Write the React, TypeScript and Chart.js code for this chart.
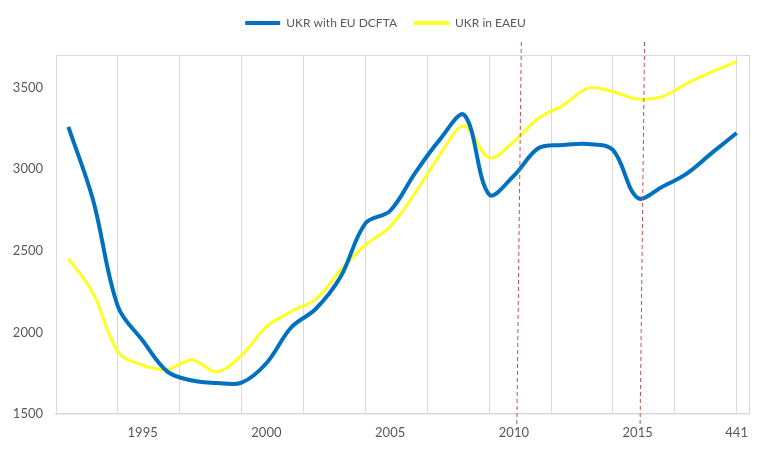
import { useEffect, useRef } from "react"
import { Chart, registerables, type ChartConfiguration, type Plugin } from "chart.js"

Chart.register(...registerables)

// data
const years = [
  1992, 1993, 1994, 1995, 1996, 1997, 1998, 1999, 2000, 2001, 2002, 2003, 2004, 2005,
  2006, 2007, 2008, 2009, 2010, 2011, 2012, 2013, 2014, 2015, 2016, 2017, 2018, 2019,
]
const ukrDcfta = [
  3260, 2810, 2160, 1950, 1760, 1705, 1690, 1692, 1811, 2030, 2145, 2341, 2668, 2745,
  2975, 3180, 3332, 2845, 2960, 3130, 3148, 3154, 3118, 2824, 2893, 2975, 3100, 3222,
]
const ukrEaeu = [
  2454, 2239, 1882, 1800, 1774, 1831, 1759, 1861, 2035, 2128, 2204, 2383, 2535, 2648,
  2852, 3087, 3265, 3070, 3170, 3314, 3393, 3497, 3475, 3430, 3445, 3527, 3597, 3659,
]

const xLabelAt = [1995, 2000, 2005, 2010, 2015, 2019]
const xLabels = ["1995", "2000", "2005", "2010", "2015", "441"]
const xGridAt = [1994, 1996.5, 1999, 2001.5, 2004, 2006.5, 2009, 2011.5, 2014, 2016.5, 2019, 2019.5]
const yTicks = [1500, 2000, 2500, 3000, 3500]

// dashed markers (slightly slanted in the original)
const markerTop = [2010.3, 2015.28]
const markerBottom = [2010.12, 2015.1]

const X_MIN = 1991.5
const X_MAX = 2019.5
const Y_MIN = 1500
const Y_MAX = 3700

const GRID = "#D9D9D9"
const TEXT = "#595959"
const FONT = "Lato, 'Open Sans', sans-serif"

// more room under the legend, and nudge the row a bit to the right
const legendGap: Plugin = {
  id: "legendGap",
  beforeInit(chart) {
    const legend = chart.legend as any
    if (!legend) return
    const fit = legend.fit
    legend.fit = function () {
      fit.call(this)
      this.height += 16
      if (this.lineWidths && this.lineWidths.length) this.lineWidths[0] -= 22
    }
  },
}

const markers: Plugin = {
  id: "markers",
  afterDatasetsDraw(chart) {
    const { ctx, chartArea, scales } = chart
    const x = scales.x
    ctx.save()
    ctx.strokeStyle = "#C0504D"
    ctx.lineWidth = 1
    ctx.setLineDash([4, 3])
    markerTop.forEach((v, i) => {
      ctx.beginPath()
      ctx.moveTo(x.getPixelForValue(v), chartArea.top - 13)
      ctx.lineTo(x.getPixelForValue(markerBottom[i]), chartArea.bottom + 11)
      ctx.stroke()
    })
    ctx.restore()
  },
}

export default function App() {
  const canvasRef = useRef<HTMLCanvasElement>(null)
  const chartRef = useRef<Chart | null>(null)

  useEffect(() => {
    if (!canvasRef.current) return
    if (chartRef.current) chartRef.current.destroy()

    const xTicks = [...new Set([...xGridAt, ...xLabelAt])].sort((a, b) => a - b)

    const config: ChartConfiguration<"line"> = {
      type: "line",
      data: {
        datasets: [
          {
            label: "UKR with EU DCFTA",
            data: years.map((y, i) => ({ x: y, y: ukrDcfta[i] })),
            borderColor: "#0070C0",
            backgroundColor: "#0070C0",
            borderWidth: 4,
            pointRadius: 0,
            tension: 0.35,
          },
          {
            label: "UKR in EAEU",
            data: years.map((y, i) => ({ x: y, y: ukrEaeu[i] })),
            borderColor: "#FFFF20",
            backgroundColor: "#FFFF20",
            borderWidth: 3,
            pointRadius: 0,
            tension: 0.35,
          },
        ],
      },
      options: {
        animation: false,
        responsive: true,
        maintainAspectRatio: false,
        layout: { padding: { top: 0, right: 19, bottom: 0, left: 0 } },
        scales: {
          x: {
            type: "linear",
            min: X_MIN,
            max: X_MAX,
            afterBuildTicks: (scale) => {
              scale.ticks = xTicks.map((v) => ({ value: v }))
            },
            afterFit: (scale) => {
              scale.height = 40
            },
            ticks: {
              autoSkip: false,
              maxRotation: 0,
              padding: 11,
              color: TEXT,
              font: { family: FONT, size: 13 },
              callback: (value) => {
                const i = xLabelAt.indexOf(Number(value))
                return i >= 0 ? xLabels[i] : ""
              },
            },
            grid: {
              drawTicks: false,
              lineWidth: 1,
              color: (ctx) => (xGridAt.includes(ctx.tick?.value) ? GRID : "rgba(0,0,0,0)"),
            },
            border: { color: GRID, width: 1.5 },
          },
          y: {
            min: Y_MIN,
            max: Y_MAX,
            afterBuildTicks: (scale) => {
              scale.ticks = [...yTicks, Y_MAX].map((v) => ({ value: v }))
            },
            afterFit: (scale) => {
              scale.width = 56
            },
            ticks: {
              padding: 13,
              color: TEXT,
              font: { family: FONT, size: 13 },
              callback: (value) => (yTicks.includes(Number(value)) ? String(value) : ""),
            },
            grid: {
              drawTicks: false,
              color: (ctx) => (ctx.tick?.value === Y_MAX ? GRID : "rgba(0,0,0,0)"),
            },
            border: { color: GRID, width: 1 },
          },
        },
        plugins: {
          legend: {
            position: "top",
            labels: {
              boxWidth: 35,
              boxHeight: 4,
              padding: 17,
              color: TEXT,
              font: { family: FONT, size: 12 },
              generateLabels: (chart) =>
                Chart.defaults.plugins.legend.labels.generateLabels(chart).map((l) => ({
                  ...l,
                  lineWidth: 0,
                  fillStyle: l.strokeStyle as string,
                })),
            },
          },
          tooltip: { enabled: false },
        },
      },
      plugins: [legendGap, markers],
    }

    chartRef.current = new Chart(canvasRef.current, config)

    return () => {
      if (chartRef.current) {
        chartRef.current.destroy()
        chartRef.current = null
      }
    }
  }, [])

  return (
    <div style={{ position: "fixed", left: 0, top: 0, width: 768, height: 454, background: "#fff" }}>
      <canvas ref={canvasRef} />
    </div>
  )
}
